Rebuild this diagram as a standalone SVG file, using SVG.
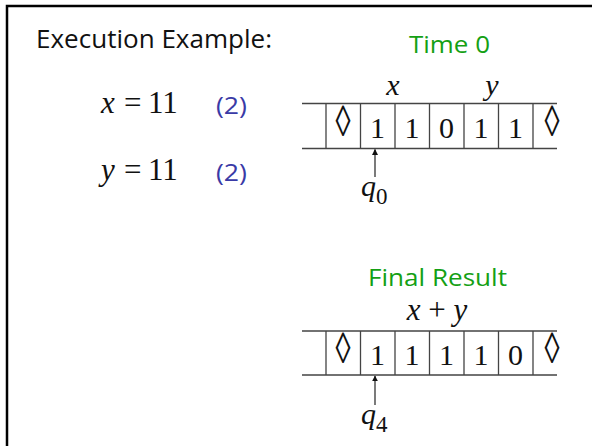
<svg xmlns="http://www.w3.org/2000/svg" width="592" height="446" viewBox="0 0 592 446">
<defs>
<marker id="ah" viewBox="0 0 10 10" refX="9" refY="5" markerWidth="6" markerHeight="6" markerUnits="userSpaceOnUse" orient="auto">
<path d="M0,0 L10,5 L0,10 z" fill="#111"/>
</marker>
<style>
.sans{font-family:"Open Sans","DejaVu Sans",sans-serif;}
.serif{font-family:"Liberation Serif","Times New Roman",serif;}
.it{font-style:italic;}
.green{fill:#14a014;}
.blue{fill:#3a3aa6;}
.tape{stroke:#444;stroke-width:1.3;fill:none;}
.cell{font-family:"Liberation Serif",serif;font-size:30px;text-anchor:middle;fill:#111;}
.loz{font-family:"Liberation Serif",serif;font-size:32px;text-anchor:middle;fill:#111;}
.arrow{stroke:#333;stroke-width:1.3;fill:none;}
</style>
</defs>
<rect width="592" height="446" fill="#fff"/>
<path d="M7,446 V6 H592" fill="none" stroke="#000" stroke-width="2.5"/>

<g id="title">
<text class="sans" x="36" y="48" font-size="26" fill="#111" textLength="236" lengthAdjust="spacingAndGlyphs">Execution Example:</text>
</g>

<g id="eq-x">
<text class="serif" y="113" font-size="31" fill="#111"><tspan class="it" x="101">x</tspan><tspan x="124">=</tspan><tspan x="148">11</tspan></text>
<text class="sans blue" x="216" y="114" font-size="24" textLength="31" lengthAdjust="spacingAndGlyphs">(2)</text>
</g>
<g id="eq-y">
<text class="serif" y="180" font-size="31" fill="#111"><tspan class="it" x="101">y</tspan><tspan x="124">=</tspan><tspan x="148">11</tspan></text>
<text class="sans blue" x="216" y="181" font-size="24" textLength="31" lengthAdjust="spacingAndGlyphs">(2)</text>
</g>

<g id="tape0">
<text class="sans green" x="409" y="53" font-size="23" textLength="81" lengthAdjust="spacingAndGlyphs">Time 0</text>
<text class="serif it" x="393" y="95" font-size="30" text-anchor="middle" fill="#111">x</text>
<text class="serif it" x="492" y="95" font-size="30" text-anchor="middle" fill="#111">y</text>
<path class="tape" d="M302,103.5 H557 M302,148.5 H557 M326,103.5 V148.5 M360.5,103.5 V148.5 M395,103.5 V148.5 M429.5,103.5 V148.5 M464,103.5 V148.5 M498.5,103.5 V148.5 M533,103.5 V148.5"/>
<text class="cell" y="138"><tspan x="377.5">1</tspan><tspan x="412">1</tspan><tspan x="446.5">0</tspan><tspan x="481">1</tspan><tspan x="515.5">1</tspan></text>
<text class="loz" transform="translate(343,136) scale(0.95,1.36)">◊</text>
<text class="loz" transform="translate(552,136) scale(0.95,1.36)">◊</text>
<text class="serif" x="361" y="196" font-size="30" fill="#111"><tspan class="it">q</tspan><tspan font-size="23" dy="8">0</tspan></text>
</g>

<g id="tape1">
<text class="sans green" x="368" y="286" font-size="24" textLength="139" lengthAdjust="spacingAndGlyphs">Final Result</text>
<text class="serif" x="437" y="320" font-size="31" text-anchor="middle" fill="#111"><tspan class="it">x</tspan> + <tspan class="it">y</tspan></text>
<path class="tape" d="M302,331 H557 M302,375 H557 M326,331 V375 M360.5,331 V375 M395,331 V375 M429.5,331 V375 M464,331 V375 M498.5,331 V375 M533,331 V375"/>
<text class="cell" y="364.5"><tspan x="377.5">1</tspan><tspan x="412">1</tspan><tspan x="446.5">1</tspan><tspan x="481">1</tspan><tspan x="515.5">0</tspan></text>
<text class="loz" transform="translate(343,362.5) scale(0.95,1.36)">◊</text>
<text class="loz" transform="translate(552,362.5) scale(0.95,1.36)">◊</text>
<text class="serif" x="361" y="424" font-size="30" fill="#111"><tspan class="it">q</tspan><tspan font-size="23" dy="8">4</tspan></text>
</g>

<g id="connectors">
<line class="arrow" x1="375" y1="177" x2="375" y2="149.5" marker-end="url(#ah)"/>
<line class="arrow" x1="375" y1="405" x2="375" y2="376" marker-end="url(#ah)"/>
</g>
</svg>
